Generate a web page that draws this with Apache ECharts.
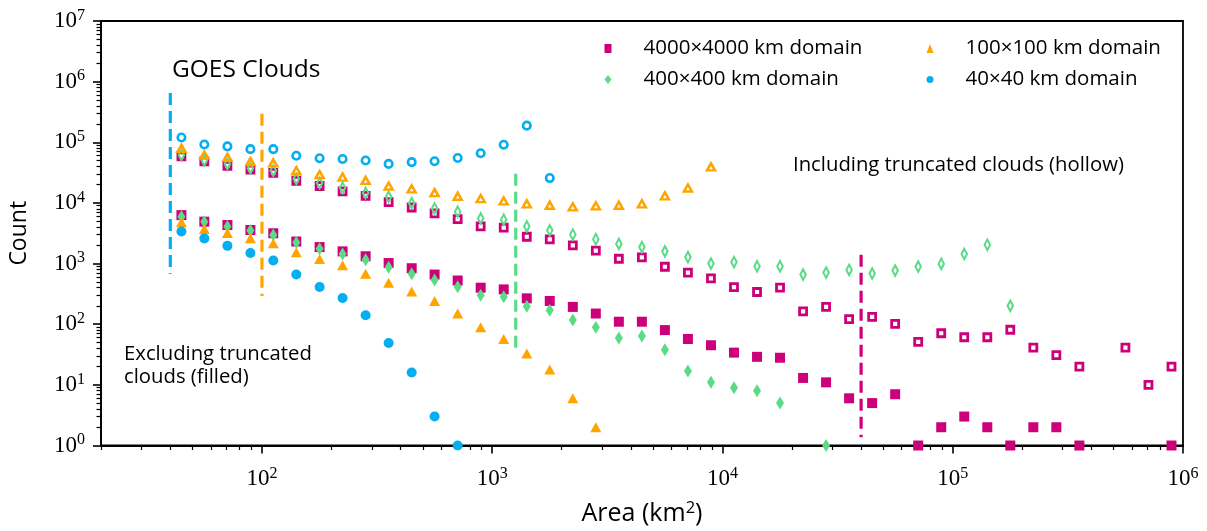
<!DOCTYPE html>
<html><head><meta charset="utf-8">
<script src="https://cdn.jsdelivr.net/npm/echarts@6/dist/echarts.min.js"></script>
<style>html,body{margin:0;padding:0;background:#fff}#c{width:1207px;height:531px}</style>
</head><body><div id="c"></div>
<script>
// ---- data ----
const areaBins = [44.7, 56.2, 70.8, 89.1, 112, 141, 178, 224, 282, 355, 447, 562, 708, 891,
  1122, 1413, 1778, 2239, 2818, 3548, 4467, 5623, 7079, 8913, 11220, 14130, 17780, 22390,
  28180, 35480, 44670, 56230, 70790, 89130, 112200, 141300, 177800, 223900, 281800,
  354800, 446700, 562300, 707900, 891300];

// Excluding truncated clouds (filled)
const dom4000Filled = [6290, 4910, 4320, 3580, 3160, 2310, 1870, 1590, 1320, 1020, 838, 659, 526, 400,
  375, 267, 242, 193, 150, 110, 110, 80, 57, 45, 34, 29, 28, 13, 11, 6, 5, 7, 1, 2, 3, 2, 1, 2, 2, 1,
  null, null, null, 1];
const dom400Filled = [5930, 4910, 4070, 3500, 2970, 2230, 1750, 1440, 1160, 871, 677, 534, 415, 299,
  285, 198, 170, 117, 89, 59, 64, 38, 17, 11, 9, 8, 5, null, 1];
const dom100Filled = [4780, 3720, 3200, 2620, 2170, 1530, 1190, 938, 677, 482, 347, 242, 150, 89,
  57, 33, 18, 6, 2];
const dom40Filled = [3370, 2600, 1960, 1490, 1120, 660, 410, 271, 141, 49, 16, 3, 1];

// Including truncated clouds (hollow)
const dom4000Hollow = [58700, 48600, 40800, 35400, 31300, 23200, 19000, 15500, 13100, 10300, 8410,
  6710, 5400, 4110, 3930, 2770, 2500, 1990, 1630, 1200, 1270, 887, 708, 571, 410, 340, 400, 163, 193,
  121, 132, 101, 51, 71, 61, 61, 81, 41, 31, 20, null, 41, 10, 20];
const dom400Hollow = [61700, 50600, 44000, 37400, 34200, 25000, 21300, 17800, 14600, 12600, 9920,
  8090, 7150, 5560, 5290, 4100, 3530, 3010, 2520, 2110, 1870, 1590, 1280, 1000, 1060, 904, 904, 659,
  711, 787, 684, 766, 891, 986, 1440, 2040, 201];
const dom100Hollow = [79400, 61700, 56600, 48000, 45700, 34200, 29400, 26700, 23500, 19000, 17000,
  14800, 12900, 11800, 10800, 9670, 9170, 8630, 8960, 9170, 9670, 13100, 17600, 39300];
const dom40Hollow = [120000, 92000, 85500, 77000, 77000, 60000, 54500, 53000, 50000, 44000, 47000,
  48700, 55000, 66000, 91000, 188000, 25700];

// Vertical dashed threshold lines, one per domain (same order as the series):
// x position, lower and upper count
const threshX = [40000, 1265, 100, 40];
const threshLow = [1.37, 32.5, 292, 680];
const threshHigh = [1400, 30200, 296000, 650000];

// Axis ticks (exponents of 10)
const xTickExp = [2, 3, 4, 5, 6];
const yTickExp = [0, 1, 2, 3, 4, 5, 6, 7];
const minorMult = [2, 3, 4, 5, 6, 7, 8, 9];
const xRange = [20, 1e6];
const yRange = [1, 1e7];

const seriesNames = ['4000×4000 km domain', '400×400 km domain', '100×100 km domain', '40×40 km domain'];
const colors = ['#CC007A', '#5ADB86', '#FFA500', '#04AEF0'];

// ---- build ----
const L = Math.log10;
function pts(vals) {
  const out = [];
  vals.forEach((v, i) => { if (v != null) out.push([L(areaBins[i]), L(v)]); });
  return out;
}
function minorTicks(e0, e1, lo, hi) {
  const out = [];
  for (let e = e0; e <= e1; e++) minorMult.forEach(m => {
    const v = L(m) + e;
    if (v >= lo - 1e-9 && v <= hi + 1e-9) out.push(v);
  });
  return out;
}
const xMin = L(xRange[0]), xMax = L(xRange[1]);
const yMin = L(yRange[0]), yMax = L(yRange[1]);

const serif = 'Liberation Serif';
const sans = 'Open Sans';
const labelRich = {
  b: { fontFamily: serif, fontSize: 23, color: '#000' },
  s: { fontFamily: serif, fontSize: 16, color: '#000', padding: [0, 0, 11, 0] }
};
const expFmt = v => '{b|10}{s|' + Math.round(v) + '}';
const axisLineStyle = { color: '#000', width: 1.8 };

const filledStyles = [
  { symbol: 'rect', symbolSize: 10 },
  { symbol: 'diamond', symbolSize: [8, 13] },
  { symbol: 'triangle', symbolSize: [11, 10] },
  { symbol: 'circle', symbolSize: 10 }
];
const hollowStyles = [
  { symbol: 'rect', symbolSize: 7, bw: 2.8 },
  { symbol: 'diamond', symbolSize: [5.5, 10.5], bw: 2.2 },
  { symbol: 'triangle', symbolSize: [8, 7], bw: 2.5 },
  { symbol: 'circle', symbolSize: 7.5, bw: 2.6 }
];
const filledData = [dom4000Filled, dom400Filled, dom100Filled, dom40Filled];
const hollowData = [dom4000Hollow, dom400Hollow, dom100Hollow, dom40Hollow];

const series = [];
threshX.forEach((x, i) => {
  series.push({
    type: 'line', name: 'thresh' + i, xAxisIndex: 0, yAxisIndex: 0, silent: true,
    showSymbol: false, symbol: 'none', z: 1,
    data: [[L(x), L(threshHigh[i])], [L(x), L(threshLow[i])]],
    lineStyle: { color: colors[i], width: 3.2, type: [12, 6] }
  });
});
for (let i = 0; i < 4; i++) {
  series.push({
    type: 'scatter', name: seriesNames[i], xAxisIndex: 0, yAxisIndex: 0, z: 3,
    symbol: filledStyles[i].symbol, symbolSize: filledStyles[i].symbolSize,
    itemStyle: { color: colors[i], opacity: 1 },
    data: pts(filledData[i])
  });
  series.push({
    type: 'scatter', name: seriesNames[i] + ' (incl. truncated)', xAxisIndex: 0, yAxisIndex: 0, z: 3,
    symbol: hollowStyles[i].symbol, symbolSize: hollowStyles[i].symbolSize,
    itemStyle: { color: 'rgba(255,255,255,0)', borderColor: colors[i], borderWidth: hollowStyles[i].bw, borderJoin: 'miter', opacity: 1 },
    data: pts(hollowData[i])
  });
}

const legendCommon = {
  orient: 'vertical', top: 33, itemGap: 10, itemWidth: 7, itemHeight: 9,
  selectedMode: false,
  textStyle: { fontFamily: sans, fontSize: 20.5, color: '#000', lineHeight: 20, padding: [0, 0, 0, 27] }
};

const option = {
  animation: false,
  backgroundColor: '#fff',
  grid: { left: 100, right: 24, top: 21, bottom: 82, show: true, borderColor: '#000', borderWidth: 1.8, backgroundColor: 'rgba(0,0,0,0)' },
  xAxis: [
    {
      type: 'value', min: xMin, max: xMax, position: 'bottom',
      name: 'Area (km{s|2})', nameLocation: 'middle', nameGap: 54,
      nameTextStyle: { fontFamily: sans, fontSize: 25, color: '#000',
        rich: { s: { fontFamily: sans, fontSize: 16.5, color: '#000', padding: [0, 0, 11, 0] } } },
      axisLine: { lineStyle: axisLineStyle },
      splitLine: { show: false },
      axisTick: { customValues: xTickExp, length: 8, lineStyle: { color: '#000', width: 1.6 } },
      axisLabel: { customValues: xTickExp, formatter: expFmt, rich: labelRich, margin: 20 }
    },
    {
      type: 'value', min: xMin, max: xMax, position: 'bottom',
      axisLine: { show: false }, splitLine: { show: false },
      axisTick: { customValues: minorTicks(1, 5, xMin, xMax), length: 4.5, lineStyle: { color: '#000', width: 1.2 } },
      axisLabel: { show: false }
    }
  ],
  yAxis: [
    {
      type: 'value', min: yMin, max: yMax, position: 'left',
      name: 'Count', nameLocation: 'middle', nameGap: 70,
      nameTextStyle: { fontFamily: sans, fontSize: 23, color: '#000' },
      axisLine: { lineStyle: axisLineStyle },
      splitLine: { show: false },
      axisTick: { customValues: yTickExp, length: 8, lineStyle: { color: '#000', width: 1.6 } },
      axisLabel: { customValues: yTickExp, formatter: expFmt, rich: labelRich, margin: 16 }
    },
    {
      type: 'value', min: yMin, max: yMax, position: 'left',
      axisLine: { show: false }, splitLine: { show: false },
      axisTick: { customValues: minorTicks(0, 6, yMin, yMax), length: 4.5, lineStyle: { color: '#000', width: 1.2 } },
      axisLabel: { show: false }
    }
  ],
  legend: [
    Object.assign({}, legendCommon, { left: 599.5, data: [seriesNames[0], seriesNames[1]] }),
    Object.assign({}, legendCommon, { left: 921.5, data: [seriesNames[2], seriesNames[3]] })
  ],
  graphic: [
    { type: 'text', left: 172, top: 58, style: { text: 'GOES Clouds', fontFamily: sans, fontSize: 24.5, fill: '#000' } },
    { type: 'text', left: 793, top: 155, style: { text: 'Including truncated clouds (hollow)', fontFamily: sans, fontSize: 20.3, fill: '#000' } },
    { type: 'text', left: 124, top: 343, style: { text: 'Excluding truncated\nclouds (filled)', fontFamily: sans, fontSize: 20.3, lineHeight: 23, fill: '#000' } }
  ],
  series: series
};

const chart = echarts.init(document.getElementById('c'), null, { renderer: 'canvas', width: 1207, height: 531 });
chart.setOption(option);
</script>
</body></html>
